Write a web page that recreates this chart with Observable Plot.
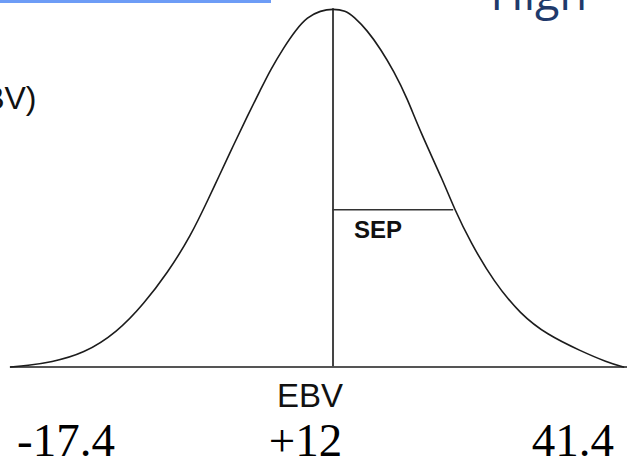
<!DOCTYPE html>
<html>
<head>
<meta charset="utf-8">
<script src="https://cdn.jsdelivr.net/npm/d3@7"></script>
<script src="https://cdn.jsdelivr.net/npm/@observablehq/plot@0.6"></script>
<style>
  html, body { margin: 0; padding: 0; background: #fff; }
  #wrap { position: relative; width: 627px; height: 466px; overflow: hidden; }
  #topbar { position: absolute; left: 0; top: 0; width: 271px; height: 3px; background: #6d9cf6; }
  #wrap svg { display: block; }
</style>
</head>
<body>
<div id="wrap"><div id="topbar"></div></div>
<script>
// Distribution of the estimated breeding value (EBV)
const mean = 12;          // EBV
const sep = 14;           // standard error of prediction (horizontal bar)
const sepLevel = 0.439;   // relative height where the SEP bar meets the curve

// Bell curve outline: EBV value and relative frequency (peak = 1)
const curveEbv = [-25.41, -23.48, -20.77, -16.91, -13.03, -9.95, -7.23, -4.53, -2.21, -1.43,
  0.49, 2.05, 3.59, 4.75, 6.29, 7.65, 9.01, 10.55, 12,
  13.45, 14.41, 15.97, 17.51, 19.05, 20.61, 22.07, 24.85, 26.01, 27.95, 30.65, 33.75,
  36.85, 40.71, 43.81, 45.70];
const curveFreq = [0, 0.004, 0.013, 0.037, 0.097, 0.176, 0.262, 0.364, 0.482, 0.522,
  0.621, 0.700, 0.774, 0.830, 0.892, 0.940, 0.977, 0.995, 1,
  0.995, 0.978, 0.940, 0.888, 0.826, 0.750, 0.660, 0.515, 0.445, 0.348, 0.238, 0.147,
  0.090, 0.045, 0.013, 0];

// Values printed under the axis
const rangeValues = [-17.4, 41.4];
const rangeLabels = ["-17.4", "41.4"];
const meanLabel = "+12";

const curve = curveEbv.map((x, i) => ({x, y: curveFreq[i]}));
const xDomain = [-26.57, 46.16];

const chart = Plot.plot({
  width: 627,
  height: 466,
  margin: 0,
  style: {background: "transparent", overflow: "visible"},
  x: {domain: xDomain, axis: null},
  y: {domain: [0, 1], range: [366.5, 8.3], axis: null},
  marks: [
    // baseline
    Plot.ruleY([0], {x1: curveEbv[0], x2: xDomain[1], stroke: "#555", strokeWidth: 2}),
    // mean EBV
    Plot.ruleX([mean], {y1: 0, y2: 1, stroke: "#444", strokeWidth: 2}),
    // SEP bar
    Plot.ruleY([sepLevel], {x1: mean, x2: mean + sep, stroke: "#333", strokeWidth: 1.6}),
    // bell curve
    Plot.line(curve, {x: "x", y: "y", curve: "basis", stroke: "#1c1c1c", strokeWidth: 1.6}),
    Plot.text(["SEP"], {x: mean, y: sepLevel, dx: 21, dy: 21, textAnchor: "start",
      fontSize: 24, fontWeight: "bold", fontFamily: "Liberation Sans, Arial, sans-serif",
      letterSpacing: "-1.5px", fill: "#111"}),
    Plot.text(["EBV"], {x: mean, y: 0, dx: -23, dy: 29, textAnchor: "middle",
      fontSize: 33, fontFamily: "Liberation Sans, Arial, sans-serif",
      letterSpacing: "-2.5px", fill: "#111"}),
    // value labels
    Plot.text(rangeValues, {x: d => d, y: 0, text: (d, i) => rangeLabels[i], dx: -13.5, dy: 74,
      textAnchor: "middle", fontSize: 47, fontFamily: "Liberation Serif, Times New Roman, serif", fill: "#000"}),
    Plot.text([mean], {x: d => d, y: 0, text: () => meanLabel, dx: -27.5, dy: 74,
      textAnchor: "middle", fontSize: 47, fontFamily: "Liberation Serif, Times New Roman, serif", fill: "#000"}),
    // side and header text
    Plot.text(["(EBV)"], {frameAnchor: "top-left", dx: 36, dy: 86, textAnchor: "end",
      fontSize: 32, fontFamily: "Liberation Sans, Arial, sans-serif", letterSpacing: "-3px", fill: "#111"}),
    Plot.text(["High"], {frameAnchor: "top-left", dx: 490, dy: 9, textAnchor: "start", lineAnchor: "bottom",
      fontSize: 45, fontFamily: "Open Sans, sans-serif", fill: "#1f3a6b"})
  ]
});

document.getElementById("wrap").appendChild(chart);
</script>
</body>
</html>
